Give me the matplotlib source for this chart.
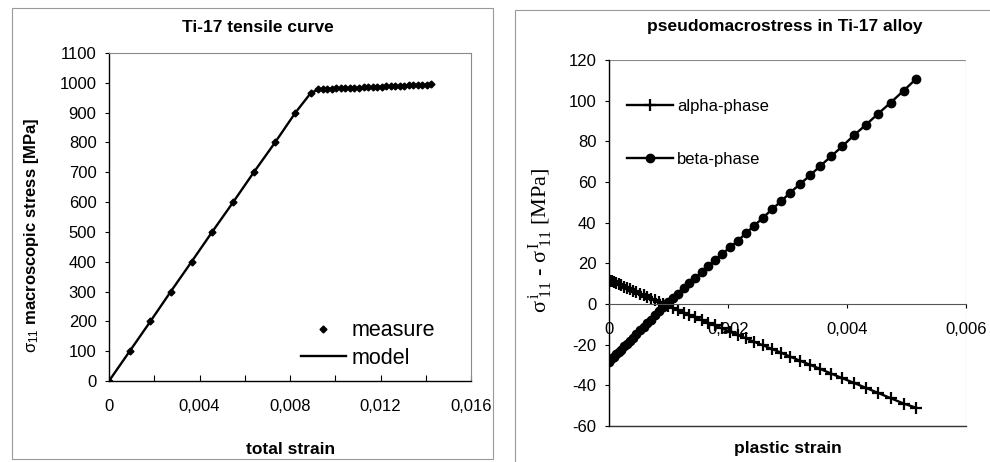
import matplotlib
matplotlib.use("Agg")
import matplotlib.pyplot as plt
from matplotlib.patches import Rectangle

plt.rcParams['font.family'] = ['Liberation Sans', 'DejaVu Sans']
plt.rcParams['mathtext.fontset'] = 'custom'
plt.rcParams['mathtext.rm'] = 'Liberation Sans'
plt.rcParams['mathtext.it'] = 'Liberation Sans'
plt.rcParams['mathtext.bf'] = 'Liberation Sans:bold'

# ---------------- data: left panel (tensile curve) ----------------
total_strain = [0.0, 0.000915, 0.00183, 0.00273, 0.00365, 0.00456, 0.00549, 0.0064,
                0.00734, 0.00824, 0.00891,
                0.00925, 0.00945, 0.00965, 0.00985, 0.01005, 0.01025, 0.01045, 0.01065,
                0.01085, 0.01105, 0.01125, 0.01145, 0.01165, 0.01185, 0.01205, 0.01225,
                0.01245, 0.01265, 0.01285, 0.01305, 0.01325, 0.01345, 0.01365, 0.01385,
                0.01405, 0.01425]
macro_stress = [0, 100, 200, 300, 400, 500, 600, 700, 800, 900, 965,
                978, 979, 979.5, 980, 981, 981.5, 982, 983, 983.5, 984, 985, 985.5,
                986, 987, 987.5, 988, 989, 989.5, 990, 991, 991.5, 992, 993, 993.5,
                994, 995]
left_xticks = [0, 0.004, 0.008, 0.012, 0.016]
left_xticklabels = ['0', '0,004', '0,008', '0,012', '0,016']
left_yticks = [0, 100, 200, 300, 400, 500, 600, 700, 800, 900, 1000, 1100]

# ---------------- data: right panel (pseudomacrostress) ----------------
plastic_strain = [0.0, 0.00002, 0.00005, 0.00008, 0.00012, 0.00016, 0.0002, 0.00025,
                  0.0003, 0.00035, 0.0004, 0.00046, 0.00052, 0.00058, 0.00064, 0.0007,
                  0.00077, 0.00084, 0.00091, 0.00099,
                  0.001078, 0.001162, 0.001257, 0.001352, 0.001453, 0.001564, 0.001665,
                  0.001777, 0.0019, 0.002028, 0.002162, 0.002302, 0.002441, 0.002587,
                  0.002737, 0.002894, 0.003045, 0.003212, 0.00338, 0.003547, 0.003732,
                  0.003922, 0.004117, 0.004313, 0.00452, 0.004732, 0.004955, 0.00516]
alpha_phase = [11.8, 11.5, 11.2, 10.8, 10.2, 9.7, 9.2, 8.5, 7.9, 7.2, 6.6, 5.8, 5.0,
               4.3, 3.5, 2.7, 1.8, 0.9, 0.0, -1.0,
               -2.1, -3.1, -4.2, -5.4, -6.6, -8.0, -9.2, -10.5, -12.0, -13.6, -15.2,
               -16.9, -18.6, -20.3, -22.1, -24.0, -25.9, -27.9, -29.9, -31.9, -34.2,
               -36.5, -38.8, -41.2, -43.7, -46.3, -49.0, -51.0]
beta_phase = [-28.3, -27.7, -26.8, -25.9, -24.8, -23.6, -22.4, -20.9, -19.5, -18.0,
              -16.5, -14.7, -13.0, -11.2, -9.4, -7.7, -5.6, -3.5, -1.5, 0.8,
              2.8, 5.1, 7.7, 10.1, 12.9, 15.9, 18.6, 21.4, 24.5, 27.8, 31.0, 34.8,
              38.6, 42.3, 46.6, 50.5, 54.8, 59.0, 63.3, 67.8, 72.6, 77.6, 83.0, 88.0,
              93.5, 99.0, 105.0, 110.7]
right_xticks = [0, 0.002, 0.004, 0.006]
right_xticklabels = ['0', '0,002', '0,004', '0,006']
right_yticks = [-60, -40, -20, 0, 20, 40, 60, 80, 100, 120]

W, H = 990, 462
fig = plt.figure(figsize=(W / 100, H / 100), dpi=100)
fig.patch.set_facecolor('white')

def fx(px):
    return px / W

def fy(py):
    return 1 - py / H

# chart-area borders
for (x0, y0, x1, y1) in [(12, 8, 493, 459), (515, 10, 995, 470)]:
    fig.patches.append(Rectangle((fx(x0), fy(y1)), fx(x1) - fx(x0), fy(y0) - fy(y1),
                                 transform=fig.transFigure, fill=False,
                                 ec='#9a9a9a', lw=0.8))

# ---------------- left axes ----------------
axL = fig.add_axes([fx(109), fy(381), fx(471) - fx(109), fy(53) - fy(381)])
axL.plot(total_strain, macro_stress, ls='none', marker='D', ms=3.5, color='black',
         label='measure')
axL.plot(total_strain, macro_stress, ls='-', lw=1.7, color='black', label='model')
axL.set_xlim(0, 0.016)
axL.set_ylim(0, 1100)
axL.set_xticks(left_xticks)
axL.set_xticklabels(left_xticklabels)
axL.set_xticks([0.002, 0.006, 0.010, 0.014], minor=True)
axL.set_yticks(left_yticks)
axL.set_yticklabels([str(v) for v in left_yticks])
axL.tick_params(axis='x', which='both', direction='in', length=4, width=0.8, pad=13,
                labelsize=12)
axL.tick_params(axis='y', direction='out', length=3, width=0.8, pad=6, labelsize=12)
for s in ['top', 'right']:
    axL.spines[s].set_color('#8a8a8a')
    axL.spines[s].set_linewidth(0.8)
for s in ['left', 'bottom']:
    axL.spines[s].set_color('black')
    axL.spines[s].set_linewidth(1.0)
axL.legend(loc='upper left', bbox_to_anchor=(0.53, 0.185), frameon=False,
           fontsize=15.5, handlelength=2.1, handletextpad=0.25,
           labelspacing=0.3, borderaxespad=0, borderpad=0)

fig.text(fx(258), fy(27), 'Ti-17 tensile curve', ha='center', va='center',
         fontsize=12.5, fontweight='bold')
fig.text(fx(291), fy(450), 'total strain', ha='center', va='center',
         fontsize=12.5, fontweight='bold')
fig.text(fx(32), fy(235), r'$\sigma_{11}$ macroscopic stress [MPa]', ha='center',
         va='center', rotation=90, fontsize=12, fontweight='bold')

# ---------------- right axes ----------------
axR = fig.add_axes([fx(609), fy(426), fx(966) - fx(609), fy(60) - fy(426)])
axR.plot(plastic_strain, alpha_phase, ls='-', lw=1.7, color='black', marker='+',
         ms=8.5, mew=1.6, label='alpha-phase')
axR.plot(plastic_strain, beta_phase, ls='-', lw=1.7, color='black', marker='o',
         ms=6, label='beta-phase')
axR.set_xlim(0, 0.006)
axR.set_ylim(-60, 120)
axR.set_xticks(right_xticks)
axR.set_xticklabels(right_xticklabels)
axR.set_yticks(right_yticks)
axR.set_yticklabels([str(v) for v in right_yticks])
axR.spines['bottom'].set_position(('data', 0))
axR.spines['bottom'].set_color('#555555')
axR.spines['bottom'].set_linewidth(0.8)
axR.spines['top'].set_visible(False)
axR.spines['right'].set_visible(False)
axR.spines['left'].set_color('black')
axR.spines['left'].set_linewidth(1.0)
axR.add_patch(Rectangle((0, 0), 1, 1, transform=axR.transAxes, fill=False,
                        ec='#8a8a8a', lw=0.8, zorder=0.5))
axR.plot([0, 1], [0, 0], transform=axR.transAxes, color='#333333', lw=1.0,
         clip_on=False)
axR.tick_params(axis='x', direction='out', length=3, width=0.8, pad=10, labelsize=12)
axR.tick_params(axis='y', direction='out', length=3, width=0.8, pad=6, labelsize=12)
axR.legend(loc='upper left', bbox_to_anchor=(0.05, 0.893), frameon=False,
           fontsize=12, handlelength=2.75, handletextpad=0.25, labelspacing=2.25,
           borderaxespad=0, borderpad=0)

fig.text(fx(785), fy(27), 'pseudomacrostress in Ti-17 alloy', ha='center',
         va='center', fontsize=12.5, fontweight='bold')
fig.text(fx(788), fy(448), 'plastic strain', ha='center', va='center',
         fontsize=12.5, fontweight='bold')
fig.text(fx(541), fy(240),
         r'$\mathregular{\sigma^{\,i}_{\ 11}}$ - $\mathregular{\sigma^{\,I}_{\ 11}}$ [MPa]',
         ha='center', va='center', rotation=90, fontsize=16,
         family=['Liberation Serif', 'DejaVu Serif'],
         math_fontfamily='stix')

fig.savefig('out.png', dpi=100, facecolor='white')
